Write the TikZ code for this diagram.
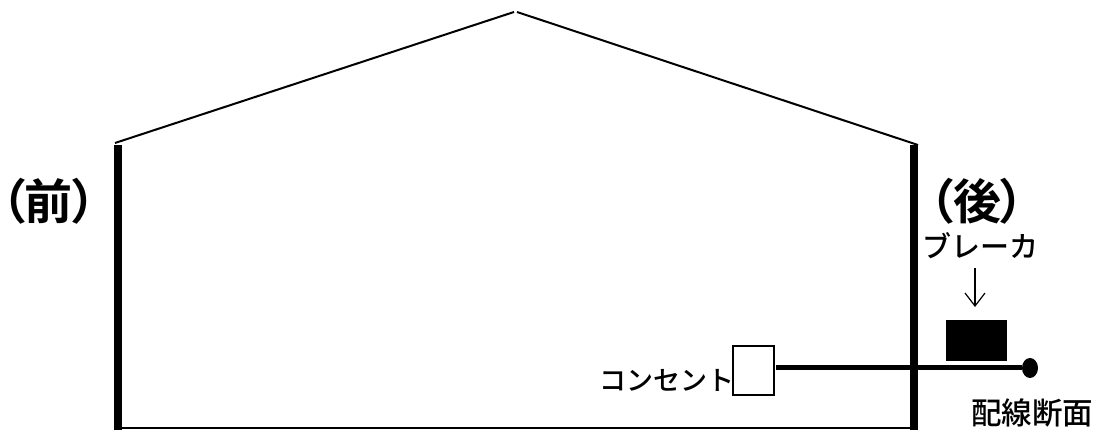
\documentclass[tikz,border=0pt]{standalone}
\usepackage{fontspec}
\newfontfamily\cjk{Noto Sans CJK JP Medium}
\newfontfamily\cjkb[RawFeature=+palt]{Noto Sans CJK JP Bold}
\usetikzlibrary{arrows.meta,shapes.geometric}
\tikzset{
  wall/.style={line width=8pt,line cap=butt},
  roofline/.style={line width=2pt},
  cable/.style={line width=5pt},
  thin box/.style={draw,line width=1.2pt,fill=white,inner sep=0pt},
  heading/.style={font=\cjkb\fontsize{48}{48}\selectfont,inner sep=0pt},
  lab/.style={font=\cjk\fontsize{29}{29}\selectfont,inner sep=0pt},
}
\begin{document}
\begin{tikzpicture}[x=1pt,y=-1pt]
\useasboundingbox (0,0) rectangle (1104,430);
\coordinate (roofL) at (115,143);
\coordinate (apexL) at (514,12);
\coordinate (apexR) at (517,12);
\coordinate (roofR) at (918,145);
\coordinate (wallLt) at (118,145);
\coordinate (wallLb) at (118,430);
\coordinate (wallRt) at (914,145);
\coordinate (wallRb) at (914,430);
\coordinate (floorL) at (118,428);
\coordinate (floorR) at (914,428);
\draw[roofline] (roofL) -- (apexL);
\draw[roofline] (apexR) -- (roofR);
\draw[wall] (wallLt) -- (wallLb);
\draw[wall] (wallRt) -- (wallRb);
\draw[line width=1.2pt] (floorL) -- (floorR);
\node[thin box,minimum width=41pt,minimum height=49pt] (outlet) at (753.5,370.5) {};
\node[draw=none,fill=black,minimum width=61pt,minimum height=41pt,inner sep=0pt] (breaker) at (976.5,340.5) {};
\node[fill=black,ellipse,minimum width=16pt,minimum height=20pt,inner sep=0pt] (dot) at (1030,368) {};
\coordinate (cableStart) at (776,368);
\draw[cable] (cableStart) -- (dot);
\node[heading] (front) at (49,201) {（前）};
\node[heading] (rear) at (977,201) {（後）};
\node[lab] (blabel) at (980,246) {ブレーカ};
\node[lab,font=\cjk\fontsize{27}{27}\selectfont] (olabel) at (667,380) {コンセント};
\node[lab,font=\cjk\fontsize{30.5}{30.5}\selectfont] (wlabel) at (1032,413) {配線断面};
\coordinate (arrowStart) at (975,268);
\coordinate (arrowEnd) at (975,307);
\draw[line width=1.2pt,-{Straight Barb[length=13pt,width=20pt]}] (arrowStart) -- (arrowEnd);
\end{tikzpicture}
\end{document}
